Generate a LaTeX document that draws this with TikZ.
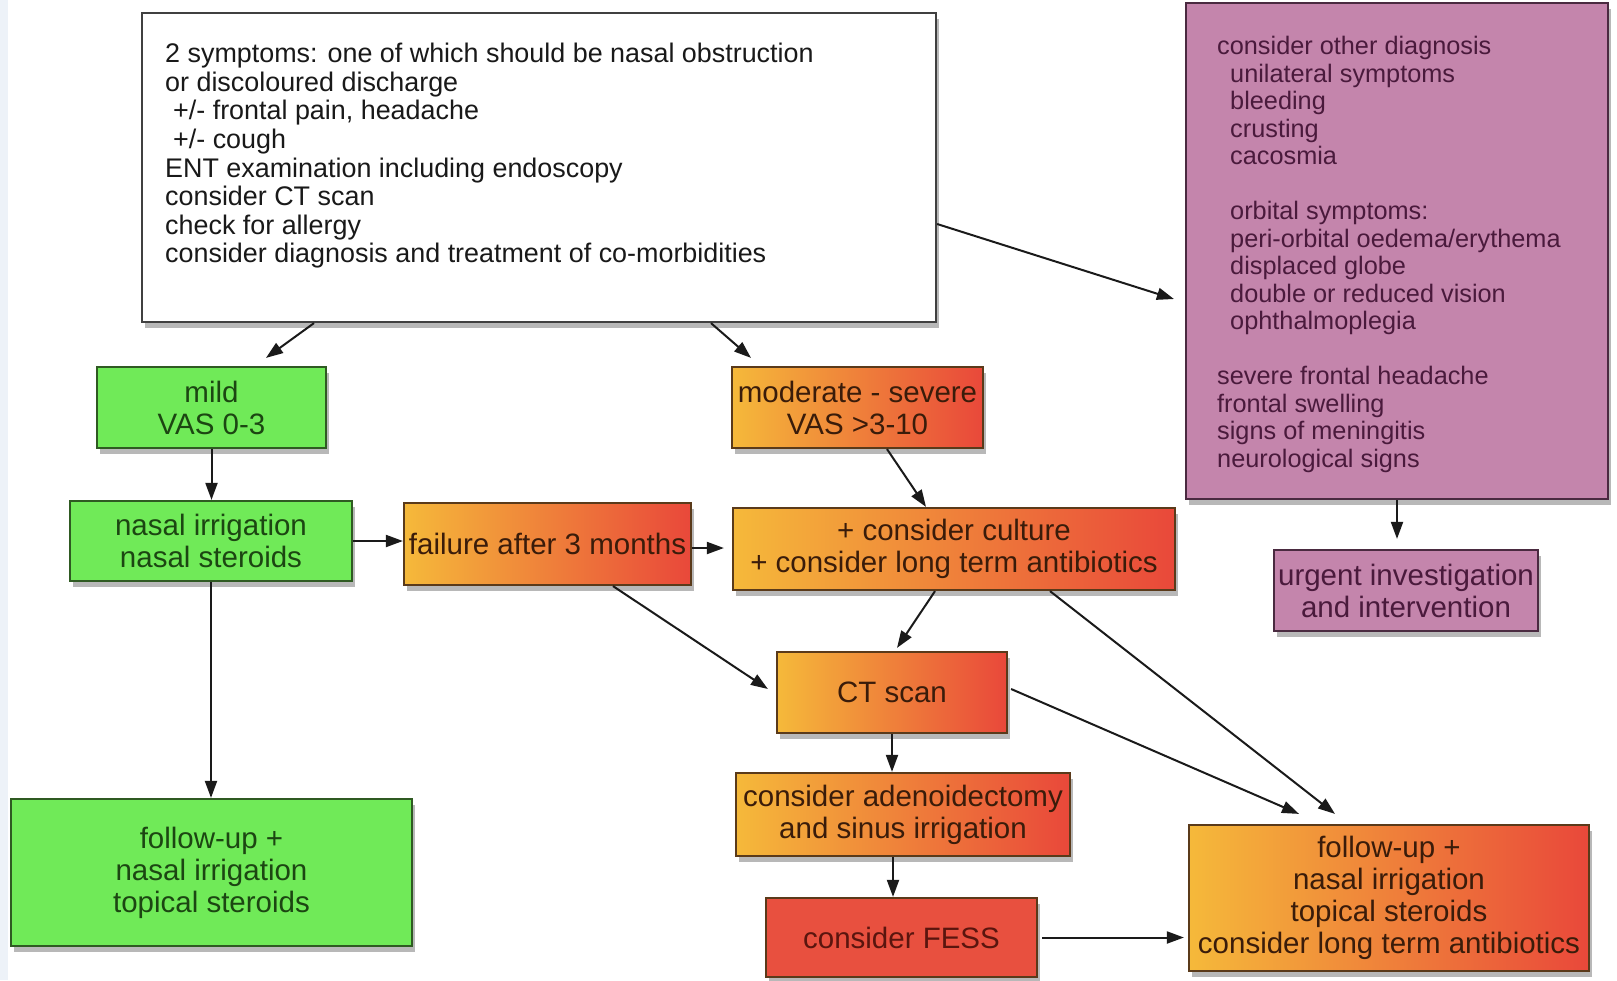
\documentclass[tikz,border=0pt]{standalone}
\usepackage{fontspec}
\setmainfont{Liberation Sans}
\usetikzlibrary{arrows.meta,shadows}
\definecolor{gfill}{HTML}{70EA58}
\definecolor{gdraw}{HTML}{2F5A22}
\definecolor{gtext}{HTML}{1C4612}
\definecolor{oL}{HTML}{F5B93A}
\definecolor{oR}{HTML}{E9483A}
\definecolor{odraw}{HTML}{5A3A1A}
\definecolor{otext}{HTML}{3A1C0A}
\definecolor{rfill}{HTML}{E8503F}
\definecolor{rtext}{HTML}{5A150E}
\definecolor{pfill}{HTML}{C485AC}
\definecolor{pdraw}{HTML}{4A2A40}
\definecolor{ptext}{HTML}{4A1A3C}
\definecolor{stripc}{HTML}{EDF2F8}
\definecolor{arrc}{HTML}{1A1A1A}
\begin{document}
\begin{tikzpicture}[x=1pt,y=-1pt,
  bx/.style n args={2}{minimum width=#1pt, minimum height=#2pt},
  sh/.style={drop shadow={shadow xshift=3pt,shadow yshift=-6pt,opacity=0.28,fill=black}},
  lbl/.style={align=center, inner sep=0pt, font=\fontsize{29.5}{32}\selectfont, line width=2.2pt, sh},
  gbox/.style={lbl, draw=gdraw, fill=gfill, text=gtext},
  obox/.style={lbl, draw=odraw, left color=oL, right color=oR, text=otext},
  rbox/.style={lbl, draw=odraw, fill=rfill, text=rtext},
  pbox/.style={lbl, draw=pdraw, fill=pfill, text=ptext},
  wbox/.style={draw=black!75, fill=white, line width=2.2pt, inner sep=0pt, sh},
  toptext/.style={align=left, inner sep=0pt, anchor=north west, text=black!90, font=\fontsize{26.9}{28.6}\selectfont},
  purtext/.style={align=left, inner sep=0pt, anchor=north west, text=ptext, font=\fontsize{25.3}{27.5}\selectfont},
  arr/.style={draw=arrc, line width=2pt, -{Triangle[length=17pt,width=12pt]}}
]
\useasboundingbox (0,0) rectangle (1617,980);
\fill[stripc] (0,0) rectangle (8,980);

% boxes
\node[wbox, bx={794}{309}] (top) at (539,167.5) {};
\node[toptext] (toptxt) at (165,43) {2 symptoms: one of which should be nasal obstruction\\
or discoloured discharge\\
\hspace*{8pt}+/- frontal pain, headache\\
\hspace*{8pt}+/- cough\\
ENT examination including endoscopy\\
consider CT scan\\
check for allergy\\
consider diagnosis and treatment of co-morbidities};

\node[pbox, bx={422}{496}] (pur) at (1397,251) {};
\node[purtext] (purtxt) at (1217,36) {consider other diagnosis\\
\hspace*{13pt}unilateral symptoms\\
\hspace*{13pt}bleeding\\
\hspace*{13pt}crusting\\
\hspace*{13pt}cacosmia\\[27.5pt]
\hspace*{13pt}orbital symptoms:\\
\hspace*{13pt}peri-orbital oedema/erythema\\
\hspace*{13pt}displaced globe\\
\hspace*{13pt}double or reduced vision\\
\hspace*{13pt}ophthalmoplegia\\[27.5pt]
severe frontal headache\\
frontal swelling\\
signs of meningitis\\
neurological signs};

\node[gbox, bx={229}{81}] (mild) at (211.5,407.5) {mild\\VAS 0-3};
\node[obox, bx={251}{81}] (mod) at (857.5,407.5) {moderate - severe\\VAS >3-10};
\node[gbox, bx={282}{80}] (nas) at (211,541) {nasal irrigation\\nasal steroids};
\node[obox, bx={287}{82}] (fail) at (547.5,544) {failure after 3 months};
\node[obox, bx={442}{82}] (cult) at (954,549) {+ consider culture\\+ consider long term antibiotics};
\node[pbox, bx={264}{81}] (urg) at (1406,590.5) {urgent investigation\\and intervention};
\node[obox, bx={230}{81}] (ct) at (892,692.5) {CT scan};
\node[obox, bx={334}{83}] (aden) at (903,814.5) {consider adenoidectomy\\and sinus irrigation};
\node[rbox, bx={271}{79}] (fess) at (901.5,937.5) {consider FESS};
\node[gbox, bx={401}{147}] (fupL) at (211.5,872.5) {follow-up +\\nasal irrigation\\topical steroids};
\node[obox, bx={400}{146}] (fupR) at (1389,898) {follow-up +\\nasal irrigation\\topical steroids\\consider long term antibiotics};

% connectors
\draw[arr] ([xshift=-225pt]top.south) -- ([xshift=54.5pt,yshift=8pt]mild.north);
\draw[arr] ([xshift=172pt]top.south) -- ([xshift=-106.5pt,yshift=8pt]mod.north);
\draw[arr] ([yshift=-56.5pt]top.east) -- ([xshift=-11pt,yshift=-48pt]pur.west);
\draw[arr] (mild.south) -- (mild.south |- nas.north);
\draw[arr] (nas.east) -- (nas.east -| fail.west);
\draw[arr, shorten >=8pt] ([yshift=-4pt]fail.east) -- ([yshift=-4pt]fail.east -| cult.west);
\draw[arr] ([xshift=29.5pt]mod.south) -- ([xshift=-28pt]cult.north);
\draw[arr] (nas.south) -- (nas.south |- fupL.north);
\draw[arr] ([xshift=65.5pt]fail.south) -- ([xshift=-8pt,yshift=3.5pt]ct.west);
\draw[arr] ([xshift=-19pt]cult.south) -- ([xshift=5pt,yshift=3pt]ct.north);
\draw[arr] ([xshift=96pt]cult.south) -- ([xshift=-54pt,yshift=10pt]fupR.north);
\draw[arr] ([xshift=3pt,yshift=3.5pt]ct.east) -- ([xshift=-90pt,yshift=10pt]fupR.north);
\draw[arr] (ct.south) -- (ct.south |- aden.north);
\draw[arr] ([xshift=-10pt]aden.south) -- ([xshift=-8.5pt]fess.north);
\draw[arr, shorten <=4pt, shorten >=4pt] (fess.east) -- (fess.east -| fupR.west);
\draw[arr, shorten >=10pt] (pur.south) -- (pur.south |- urg.north);
\end{tikzpicture}
\end{document}
